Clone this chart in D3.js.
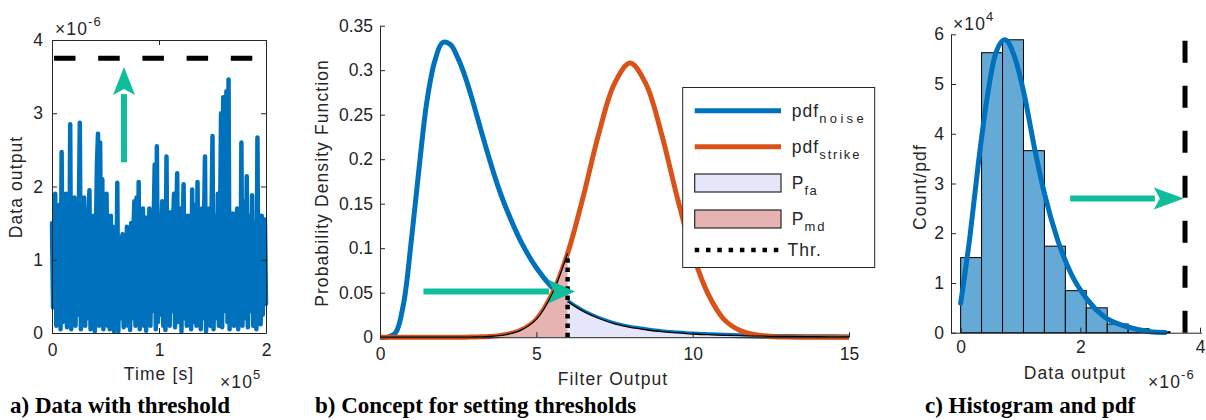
<!DOCTYPE html>
<html>
<head>
<meta charset="utf-8">
<script src="https://cdn.jsdelivr.net/npm/d3@7"></script>
<style>
  body { margin: 0; background: #fff; }
  svg { display: block; }
  text { font-family: "Liberation Sans", Arial, Helvetica, sans-serif; fill: #262626; font-size: 17.5px; }
  .lbl { letter-spacing: 1.1px; }
  .caption { font-family: "Liberation Serif", "Times New Roman", serif; font-weight: bold; fill: #000; font-size: 23px; }
  .axis path, .axis line { stroke: #262626; stroke-width: 1; }
</style>
</head>
<body>
<svg id="fig" width="1206" height="420"></svg>
<script>
// ---------- data: (a) detector output over time, units 1e-6, one sample per 1000 s ----------
const sampleStep = 1000;
const signalValues = [
  1.5,0.35,1.3,1.9,0.1,1.45,0.2,1.75,0.05,2.47,0.15,1.5,0.3,1.9,0.08,1.4,0.12,2.85,0.05,1.45,
  0.2,1.85,0.1,1.3,0.25,1.5,2.87,0.05,1.5,0.3,1.85,0.1,1.35,0.2,1.55,1.95,0.05,1.4,0.15,1.6,
  0.02,1.3,2.3,2.72,0.1,2.6,0.2,2.1,0.05,1.4,0.25,1.9,0.1,1.3,0.05,1.6,0.3,1.45,0.02,1.35,
  0.15,2.05,0.02,1.3,0.2,1.25,1.35,0.08,1.2,0.3,1.45,0.1,1.3,0.04,1.5,0.2,1.35,1.8,0.1,1.85,
  0.15,2.06,0.05,1.45,0.25,1.7,0.1,1.58,0.03,1.4,0.2,1.7,0.1,1.35,0.3,1.5,2.3,0.05,2.55,0.15,
  1.4,0.25,1.3,1.8,0.1,1.45,0.04,2.41,0.2,1.35,0.1,1.65,0.3,1.4,1.9,0.08,1.5,2.18,0.15,1.3,
  1.7,0.02,1.4,2.03,0.2,1.45,0.1,1.6,0.3,1.35,0.05,1.96,0.15,1.4,1.75,0.1,2.06,0.25,1.3,0.05,
  1.7,0.2,1.45,2.41,0.02,1.4,0.15,1.7,0.1,1.5,2.69,0.05,1.35,1.6,0.2,1.9,0.1,1.4,3.0,0.08,
  3.22,0.3,1.5,3.3,0.15,3.46,0.05,1.45,0.2,1.63,0.1,1.35,0.25,1.7,0.05,1.5,0.15,2.6,0.1,1.4,
  1.8,0.2,2.14,0.08,1.45,1.6,0.3,1.88,0.1,1.35,1.5,0.05,2.67,0.2,1.4,0.12,1.6,0.25,1.3,1.55,
  0.4
];
const detectionThreshold = 3.75;          // 1e-6
const timeTicks = [0, 1e5, 2e5];
const outputTicksA = [0, 1, 2, 3, 4];

// ---------- data: (b) noise / strike densities over filter output ----------
const filterX      = [0, 0.25, 0.5, 0.75, 1.0, 1.25, 1.5, 1.75, 2.0, 2.25, 2.5, 2.75, 3.0, 3.25, 3.5, 3.75, 4.0, 4.5, 5.0, 5.5, 6.0, 6.5, 7.0, 7.5, 8.0, 8.5, 9.0, 9.5, 10, 10.5, 11, 11.5, 12, 12.5, 13, 14, 15];
const pdfNoise     = [0, 0, 0.005, 0.037, 0.108, 0.19, 0.265, 0.31, 0.331, 0.329, 0.313, 0.29, 0.261, 0.23, 0.2, 0.172, 0.148, 0.108, 0.078, 0.056, 0.04, 0.029, 0.021, 0.015, 0.011, 0.0084, 0.0062, 0.0048, 0.0036, 0.0028, 0.0021, 0.0017, 0.0013, 0.001, 0.0008, 0.0005, 0.0003];
const pdfStrike    = [0, 0, 0, 0, 0, 0, 0, 0, 0, 0, 0, 0, 0.0002, 0.0004, 0.0008, 0.0015, 0.0027, 0.0077, 0.02, 0.048, 0.094, 0.158, 0.229, 0.285, 0.308, 0.285, 0.229, 0.158, 0.094, 0.048, 0.02, 0.0077, 0.0027, 0.0008, 0.0002, 0, 0];
const filterThreshold = 6;
const filterTicks  = [0, 5, 10, 15];
const densityTicks = [0, 0.05, 0.1, 0.15, 0.2, 0.25, 0.3, 0.35];

// ---------- data: (c) histogram of output (1e-6) and fitted pdf (counts 1e4) ----------
const binEdges  = [0, 0.35, 0.70, 1.05, 1.40, 1.75, 2.10, 2.45, 2.80, 3.15, 3.50];
const binCounts = [1.51, 5.63, 5.89, 3.66, 1.74, 0.845, 0.50, 0.175, 0.08, 0.02];
const fitX      = [0.0, 0.155, 0.29, 0.43, 0.57, 0.74, 0.90, 1.07, 1.23, 1.40, 1.62, 1.84, 2.12, 2.40, 2.78, 3.17, 3.42];
const fitY      = [0.59, 1.93, 3.34, 4.62, 5.55, 5.89, 5.55, 4.75, 3.74, 2.80, 1.87, 1.20, 0.66, 0.32, 0.12, 0.02, 0.005];
const histXTicks = [0, 2, 4];
const histYTicks = [0, 1, 2, 3, 4, 5, 6];

// ---------- colours ----------
const BLUE = "#0072BD", ORANGE = "#D95319", ARROW = "#0EBE9B";
const FA_FILL = "#E6E6FA", MD_FILL = "#E6B3B3", HIST_FILL = "#65A9D7";

const svg = d3.select("#fig");
const plain = d3.format("~g");

function styleAxis(g) {
  g.attr("class", "axis").attr("font-size", null).attr("font-family", null);
  g.selectAll(".tick text").attr("fill", "#262626");
  return g;
}

// arrow: shaft + triangular head, endpoints in pixels from scales
function arrow(g, x1, y1, x2, y2, headLen, headHalf, width) {
  const dx = x2 - x1, dy = y2 - y1, L = Math.hypot(dx, dy);
  const ux = dx / L, uy = dy / L, px = -uy, py = ux;
  const bx = x2 - ux * headLen, by = y2 - uy * headLen;
  g.append("line").attr("x1", x1).attr("y1", y1).attr("x2", bx + ux).attr("y2", by + uy)
    .attr("stroke", ARROW).attr("stroke-width", width);
  g.append("path")
    .attr("d", `M${x2},${y2}L${bx + px * headHalf},${by + py * headHalf}L${bx + ux * 6},${by + uy * 6}L${bx - px * headHalf},${by - py * headHalf}Z`)
    .attr("fill", ARROW);
}

function expLabel(x, y, sup) {
  const t = svg.append("text").attr("x", x).attr("y", y).attr("class", "lbl");
  t.append("tspan").text("\u00d710");
  t.append("tspan").attr("dy", -9).attr("font-size", "13px").text(sup);
}

// =================== (a) data with threshold ===================
{
  const x = d3.scaleLinear([0, 2e5], [52, 266]);
  const y = d3.scaleLinear([0, 4], [333, 40]);
  const g = svg.append("g");

  const line = d3.line().x((d, i) => x(i * sampleStep)).y(d => y(d));
  g.append("path").datum(signalValues).attr("d", line)
    .attr("fill", "none").attr("stroke", BLUE).attr("stroke-width", 4.5)
    .attr("stroke-linejoin", "round").attr("stroke-linecap", "round");

  g.append("line").attr("x1", x(0)).attr("x2", x(2e5))
    .attr("y1", y(detectionThreshold)).attr("y2", y(detectionThreshold))
    .attr("stroke", "#000").attr("stroke-width", 5)
    .attr("stroke-dasharray", "21.5,22.7").attr("stroke-dashoffset", -2);

  styleAxis(g.append("g").attr("transform", `translate(0,${y(0)})`)
    .call(d3.axisBottom(x).tickValues(timeTicks).tickFormat(d => d / 1e5).tickSizeInner(-5).tickSizeOuter(0).tickPadding(11)));
  styleAxis(g.append("g").attr("transform", `translate(0,${y(4)})`)
    .call(d3.axisTop(x).tickValues(timeTicks).tickFormat("").tickSizeInner(-5).tickSizeOuter(0)));
  styleAxis(g.append("g").attr("transform", `translate(${x(0)},0)`)
    .call(d3.axisLeft(y).tickValues(outputTicksA).tickFormat(plain).tickSizeInner(-5).tickSizeOuter(0).tickPadding(9)));
  styleAxis(g.append("g").attr("transform", `translate(${x(2e5)},0)`)
    .call(d3.axisRight(y).tickValues(outputTicksA).tickFormat("").tickSizeInner(-5).tickSizeOuter(0)));

  arrow(g, x(0.673e5), y(2.33), x(0.673e5), y(3.63), 28, 11, 6);

  svg.append("text").attr("class", "lbl").attr("x", 159).attr("y", 380).attr("text-anchor", "middle").text("Time [s]");
  svg.append("text").attr("class", "lbl").attr("text-anchor", "middle")
    .attr("transform", "translate(22,187) rotate(-90)").text("Data output");
  expLabel(55, 35, "-6");
  expLabel(220, 388, "5");
  svg.append("text").attr("class", "caption").attr("x", 10).attr("y", 413).text("a) Data with threshold");
}

// =================== (b) concept for setting thresholds ===================
{
  const x = d3.scaleLinear([0, 15], [380, 849]);
  const y = d3.scaleLinear([0, 0.35], [337.2, 25.7]);
  const g = svg.append("g");
  const pts = (ys) => filterX.map((v, i) => [v, ys[i]]);
  const curve = d3.curveCatmullRom.alpha(0.5);

  const ln = d3.line().x(d => x(d[0])).y(d => y(Math.max(0, d[1]))).curve(curve);
  g.append("path").datum(pts(pdfNoise)).attr("d", ln).attr("fill", "none").attr("stroke", BLUE).attr("stroke-width", 5);
  g.append("path").datum(pts(pdfStrike)).attr("d", ln).attr("fill", "none").attr("stroke", ORANGE).attr("stroke-width", 5);

  const ar = d3.area().x(d => x(d[0])).y0(y(0)).y1(d => y(d[1])).curve(curve);
  const mdPts = pts(pdfStrike).filter(d => d[0] <= filterThreshold);
  const faPts = pts(pdfNoise).filter(d => d[0] >= filterThreshold);
  g.append("path").datum(faPts).attr("d", ar).attr("fill", FA_FILL);
  g.append("path").datum(mdPts).attr("d", ar).attr("fill", MD_FILL);
  g.append("path").datum(faPts).attr("d", ln).attr("fill", "none").attr("stroke", "#000").attr("stroke-width", 1.3);
  g.append("path").datum(mdPts).attr("d", ln).attr("fill", "none").attr("stroke", "#000").attr("stroke-width", 1.3);

  const thrTop = pdfStrike[filterX.indexOf(filterThreshold)];
  g.append("line").attr("x1", x(filterThreshold)).attr("x2", x(filterThreshold))
    .attr("y1", y(0)).attr("y2", y(thrTop))
    .attr("stroke", "#000").attr("stroke-width", 4.5).attr("stroke-dasharray", "4.5,4.8");

  styleAxis(g.append("g").attr("transform", `translate(0,${y(0)})`)
    .call(d3.axisBottom(x).tickValues(filterTicks).tickFormat(plain).tickSizeInner(-5).tickSizeOuter(0).tickPadding(10)));
  styleAxis(g.append("g").attr("transform", `translate(${x(0)},0)`)
    .call(d3.axisLeft(y).tickValues(densityTicks).tickFormat(d => String(+d.toFixed(2))).tickSizeInner(-5).tickSizeOuter(0).tickPadding(7)));

  arrow(g, x(1.39), y(0.0514), x(6.24), y(0.0514), 27, 12, 6);

  // legend
  const lg = g.append("g");
  lg.append("rect").attr("x", 682.7).attr("y", 87.5).attr("width", 192).attr("height", 180)
    .attr("fill", "#fff").attr("stroke", "#262626").attr("stroke-width", 1);
  const sx1 = 694.7, sx2 = 781;
  lg.append("line").attr("x1", sx1).attr("x2", sx2).attr("y1", 110.7).attr("y2", 110.7).attr("stroke", BLUE).attr("stroke-width", 5);
  lg.append("line").attr("x1", sx1).attr("x2", sx2).attr("y1", 146.7).attr("y2", 146.7).attr("stroke", ORANGE).attr("stroke-width", 5);
  lg.append("rect").attr("x", sx1).attr("y", 174).attr("width", sx2 - sx1).attr("height", 18).attr("fill", FA_FILL).attr("stroke", "#262626").attr("stroke-width", 1.2);
  lg.append("rect").attr("x", sx1).attr("y", 210).attr("width", sx2 - sx1).attr("height", 18).attr("fill", MD_FILL).attr("stroke", "#262626").attr("stroke-width", 1.2);
  lg.append("line").attr("x1", sx1).attr("x2", sx2).attr("y1", 250).attr("y2", 250).attr("stroke", "#000").attr("stroke-width", 4.5).attr("stroke-dasharray", "4.5,6.8");

  const entry = (yy, main, sub, sp) => {
    const t = lg.append("text").attr("x", 791.7).attr("y", yy).attr("class", "lbl");
    t.append("tspan").text(main);
    t.append("tspan").attr("dy", 5.5).attr("font-size", "13px").style("letter-spacing", sp + "px").text(sub);
  };
  entry(117, "pdf", "noise", 3.3);
  entry(153, "pdf", "strike", 1.8);
  entry(189, "P", "fa", 1.5);
  entry(225, "P", "md", 2);
  lg.append("text").attr("class", "lbl").attr("x", 787.5).attr("y", 256).text("Thr.");

  svg.append("text").attr("class", "lbl").attr("x", 613).attr("y", 385).attr("text-anchor", "middle").text("Filter Output");
  svg.append("text").attr("class", "lbl").attr("text-anchor", "middle")
    .attr("transform", "translate(328,183) rotate(-90)").text("Probability Density Function");
  svg.append("text").attr("class", "caption").attr("x", 315).attr("y", 413).text("b) Concept for setting thresholds");
}

// =================== (c) histogram and pdf ===================
{
  const x = d3.scaleLinear([-0.161, 4.027], [951, 1201.6]);
  const y = d3.scaleLinear([0, 6], [332.7, 34.3]);
  const g = svg.append("g");

  g.selectAll("rect.bin").data(binCounts).join("rect").attr("class", "bin")
    .attr("x", (d, i) => x(binEdges[i])).attr("width", (d, i) => x(binEdges[i + 1]) - x(binEdges[i]))
    .attr("y", d => y(d)).attr("height", d => y(0) - y(d))
    .attr("fill", HIST_FILL).attr("stroke", "#000").attr("stroke-width", 1);

  const ln = d3.line().x((d, i) => x(fitX[i])).y(d => y(d)).curve(d3.curveMonotoneX);
  g.append("path").datum(fitY).attr("d", ln).attr("fill", "none").attr("stroke", BLUE).attr("stroke-width", 5).attr("stroke-linecap", "round");

  g.append("line").attr("x1", x(detectionThreshold)).attr("x2", x(detectionThreshold))
    .attr("y1", y(0)).attr("y2", y(5.9))
    .attr("stroke", "#000").attr("stroke-width", 5).attr("stroke-dasharray", "22,23");

  styleAxis(g.append("g").attr("transform", `translate(0,${y(0)})`)
    .call(d3.axisBottom(x).tickValues(histXTicks).tickFormat(plain).tickSizeInner(-5).tickSizeOuter(0).tickPadding(8)));
  styleAxis(g.append("g").attr("transform", `translate(${x(-0.161)},0)`)
    .call(d3.axisLeft(y).tickValues(histYTicks).tickFormat(plain).tickSizeInner(-5).tickSizeOuter(0).tickPadding(7)));

  arrow(g, x(1.83), y(2.70), x(3.73), y(2.70), 30, 11, 6);

  svg.append("text").attr("class", "lbl").attr("x", 1075).attr("y", 379).attr("text-anchor", "middle").text("Data output");
  svg.append("text").attr("class", "lbl").attr("text-anchor", "middle")
    .attr("transform", "translate(926,187) rotate(-90)").text("Count/pdf");
  expLabel(953, 30, "4");
  expLabel(1148, 388, "-6");
  svg.append("text").attr("class", "caption").attr("x", 925).attr("y", 413).text("c) Histogram and pdf");
}
</script>
</body>
</html>
